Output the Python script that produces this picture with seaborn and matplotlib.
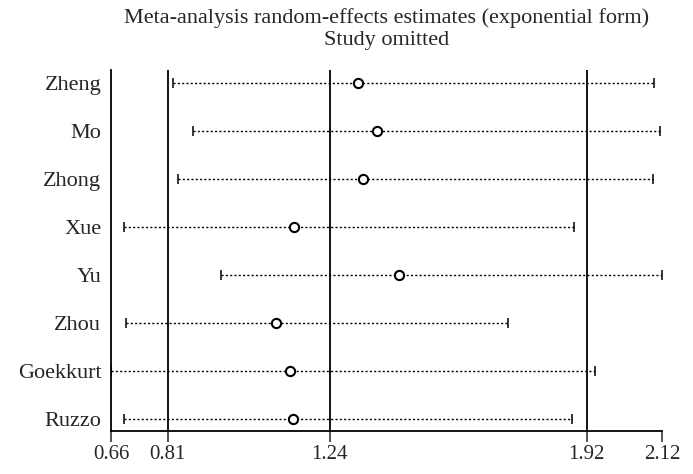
import numpy as np
import pandas as pd
import matplotlib
matplotlib.use('Agg')
import matplotlib.pyplot as plt
import seaborn as sns

# study omitted and the pooled estimate with its CI
studies = ['Zheng', 'Mo', 'Zhong', 'Xue', 'Yu', 'Zhou', 'Goekkurt', 'Ruzzo']
est = [1.315, 1.365, 1.327, 1.145, 1.422, 1.096, 1.133, 1.143]
lower = [0.824, 0.877, 0.837, 0.694, 0.952, 0.700, 0.66, 0.694]
upper = [2.098, 2.116, 2.096, 1.887, 2.12, 1.713, 1.942, 1.882]
ref_lines = [0.81, 1.24, 1.92]
xticks = [0.66, 0.81, 1.24, 1.92, 2.12]
xticklabels = ['0.66', '0.81', '1.24', '1.92', '2.12']

df = pd.DataFrame({'study': studies, 'est': est, 'lower': lower, 'upper': upper})
df['pos'] = np.arange(len(df))

sns.set_style('ticks')
plt.rcParams['font.family'] = ['Liberation Serif', 'DejaVu Serif']

fig = plt.figure(figsize=(6.93, 4.74), dpi=100)
ax = fig.add_axes([111/693, 1 - 431/474, (662 - 111)/693, (431 - 70)/474])

# overall estimate and CI
for v in ref_lines:
    ax.axvline(v, color='black', lw=1.3, zorder=1)

# dotted CI lines
ax.hlines(df['pos'], df['lower'], df['upper'], colors='black',
          linestyles=(0, (1.5, 1.6)), lw=1.0, zorder=2)
# caps
ax.plot(df['lower'], df['pos'], ls='none', marker='|', ms=7.5, mew=1.1, color='black', zorder=3)
ax.plot(df['upper'], df['pos'], ls='none', marker='|', ms=7.5, mew=1.1, color='black', zorder=3)
# point estimates
sns.scatterplot(data=df, x='est', y='pos', ax=ax, marker='o', s=44,
                facecolor='white', edgecolor='black', linewidth=1.5, zorder=4)

ax.set_xlim(0.66, 2.12)
ax.set_ylim(len(df) - 1 + 0.25, -0.27)
ax.set_yticks(df['pos'])
ax.set_yticklabels(df['study'], fontsize=16)
ax.tick_params(axis='y', length=0, pad=7)
ax.set_xticks(xticks)
ax.set_xticklabels(xticklabels, fontsize=15)
ax.tick_params(axis='x', length=8, width=1.1, pad=2, direction='out')
ax.set_xlabel('')
ax.set_ylabel('')
for s in ['top', 'right']:
    ax.spines[s].set_visible(False)
for s in ['left', 'bottom']:
    ax.spines[s].set_linewidth(1.3)
    ax.spines[s].set_color('black')

cx = (111 + 662) / 2 / 693
fig.text(cx, 1 - 18/474, 'Meta-analysis random-effects estimates (exponential form)',
         ha='center', va='center', fontsize=16)
fig.text(cx, 1 - 41/474, 'Study omitted', ha='center', va='center', fontsize=16)

fig.savefig('out.png', dpi=100)
